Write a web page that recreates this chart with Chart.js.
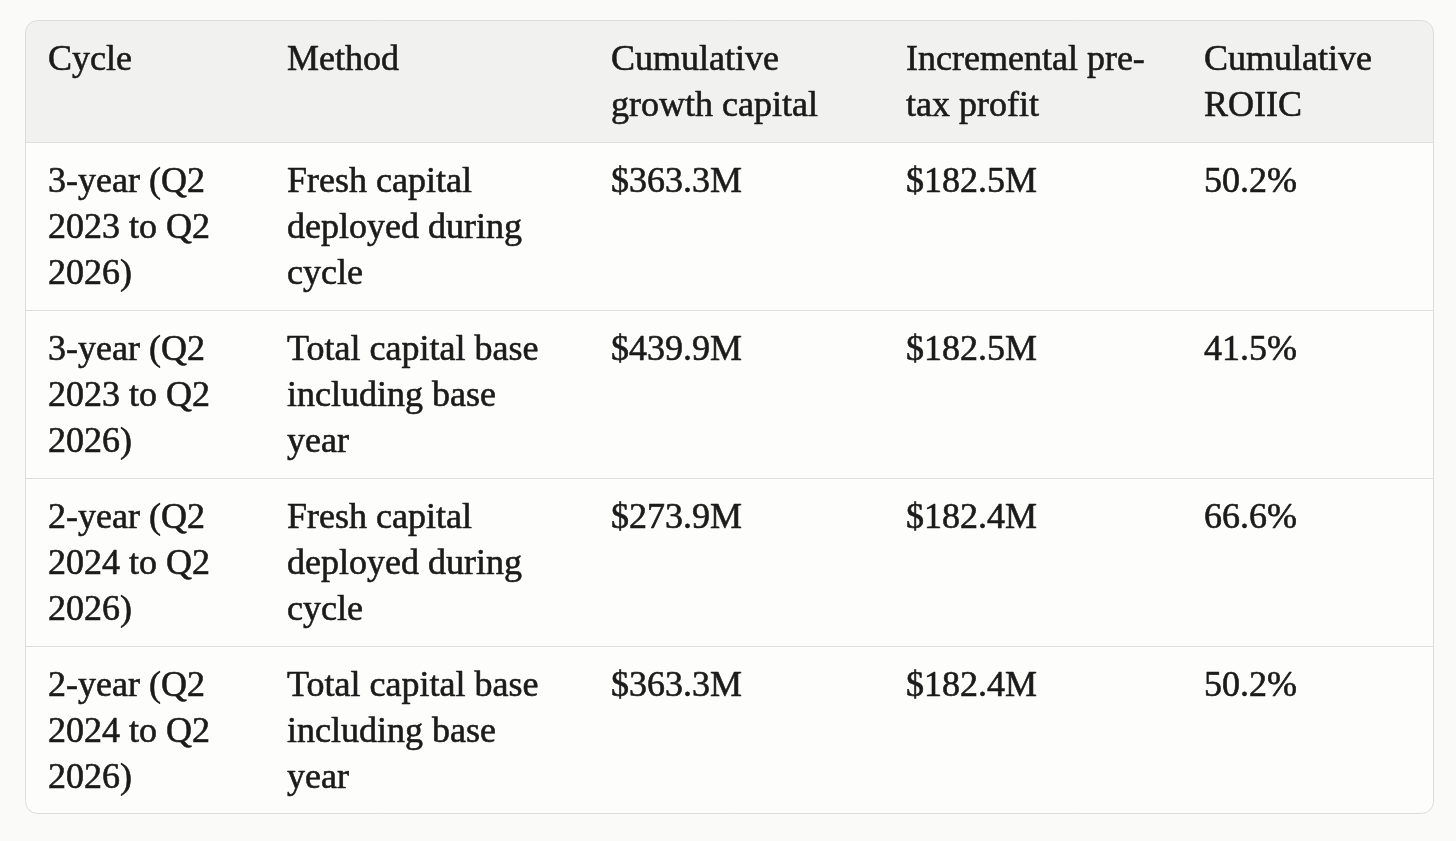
<!DOCTYPE html>
<html>
<head>
<meta charset="utf-8">
<script src="https://cdn.jsdelivr.net/npm/chart.js@4.4.1/dist/chart.umd.min.js"></script>
<style>
  html, body { margin: 0; padding: 0; background: #fafaf9; }
  #wrap { width: 1456px; height: 841px; }
</style>
</head>
<body>
<div id="wrap"><canvas id="roiicTable"></canvas></div>
<script>
// Table content
const headers = ["Cycle", "Method", "Cumulative growth capital", "Incremental pre-tax profit", "Cumulative ROIIC"];
const cycles = [
  "3-year (Q2 2023 to Q2 2026)",
  "3-year (Q2 2023 to Q2 2026)",
  "2-year (Q2 2024 to Q2 2026)",
  "2-year (Q2 2024 to Q2 2026)",
];
const methods = [
  "Fresh capital deployed during cycle",
  "Total capital base including base year",
  "Fresh capital deployed during cycle",
  "Total capital base including base year",
];
const growthCapital = [363.3, 439.9, 273.9, 363.3]; // $M
const pretaxProfit = [182.5, 182.5, 182.4, 182.4]; // $M
const roiic = [50.2, 41.5, 66.6, 50.2]; // %

// Layout (px units on the chart's own scales)
const colWidths = [239, 324, 295, 298, 253];
const headerHeight = 122;
const rowHeight = 168;
const padX = 23;
const wrapSlack = 56; // text width = column width - slack
const firstBaseline = 50;
const lineHeight = 46;
const fontCss = "36px 'Liberation Serif', 'DejaVu Serif', serif";

const totalW = colWidths.reduce((a, b) => a + b, 0);
const totalH = headerHeight + rowHeight * cycles.length;

const money = (v) => "$" + v.toFixed(1) + "M";
const pct = (v) => v.toFixed(1) + "%";

const bodyRows = cycles.map((c, i) => [c, methods[i], money(growthCapital[i]), money(pretaxProfit[i]), pct(roiic[i])]);

// greedy wrap, allows a break after a hyphen
function wrapText(ctx, text, maxWidth) {
  const tokens = [];
  text.split(" ").forEach((word, wi) => {
    const parts = word.split(/(?<=-)/);
    parts.forEach((p, pi) => tokens.push({ text: p, space: wi > 0 && pi === 0 }));
  });
  const lines = [];
  let line = "";
  tokens.forEach((t) => {
    const candidate = line === "" ? t.text : line + (t.space ? " " : "") + t.text;
    if (line !== "" && ctx.measureText(candidate).width > maxWidth) {
      lines.push(line);
      line = t.text;
    } else {
      line = candidate;
    }
  });
  if (line) lines.push(line);
  return lines;
}

const tablePlugin = {
  id: "tablePlugin",
  beforeDatasetsDraw(chart) {
    const { ctx, scales } = chart;
    const xs = scales.x, ys = scales.y;
    const left = xs.getPixelForValue(0), right = xs.getPixelForValue(totalW);
    const top = ys.getPixelForValue(0), bottom = ys.getPixelForValue(totalH);
    const headerBottom = ys.getPixelForValue(headerHeight);

    ctx.save();
    // table body + header
    ctx.beginPath();
    ctx.roundRect(left + 0.5, top + 0.5, right - left - 1, bottom - top - 1, 12);
    ctx.fillStyle = "#fdfdfc";
    ctx.fill();
    ctx.save();
    ctx.clip();
    ctx.fillStyle = "#f1f1f0";
    ctx.fillRect(left, top, right - left, headerBottom - top);
    ctx.restore();

    // row separators
    ctx.strokeStyle = "#dededc";
    ctx.lineWidth = 1;
    for (let r = 0; r < cycles.length; r++) {
      const y = Math.round(ys.getPixelForValue(headerHeight + rowHeight * r)) + 0.5;
      ctx.beginPath();
      ctx.moveTo(left, y);
      ctx.lineTo(right, y);
      ctx.stroke();
    }

    // outer border
    ctx.beginPath();
    ctx.roundRect(left + 0.5, top + 0.5, right - left - 1, bottom - top - 1, 12);
    ctx.strokeStyle = "#dcdcda";
    ctx.stroke();

    // text (thin stroke to match the heavier source face)
    ctx.font = fontCss;
    ctx.fillStyle = "#1b1b1b";
    ctx.strokeStyle = "#1b1b1b";
    ctx.lineWidth = 0.6;
    ctx.lineJoin = "round";
    ctx.textBaseline = "alphabetic";
    ctx.textAlign = "left";
    const drawRow = (cells, rowTopValue) => {
      let acc = 0;
      cells.forEach((cell, ci) => {
        const x0 = xs.getPixelForValue(acc) + padX;
        const lines = wrapText(ctx, cell, colWidths[ci] - wrapSlack);
        lines.forEach((ln, li) => {
          const y = ys.getPixelForValue(rowTopValue) + firstBaseline + li * lineHeight;
          ctx.fillText(ln, x0, y);
          ctx.strokeText(ln, x0, y);
        });
        acc += colWidths[ci];
      });
    };
    drawRow(headers, 0);
    bodyRows.forEach((cells, r) => drawRow(cells, headerHeight + rowHeight * r));
    ctx.restore();
  },
};

new Chart(document.getElementById("roiicTable"), {
  type: "scatter",
  data: { datasets: [{ data: [] }] },
  options: {
    responsive: true,
    maintainAspectRatio: false,
    animation: false,
    layout: { padding: { left: 25, top: 20, right: 22, bottom: 27 } },
    scales: {
      x: { type: "linear", min: 0, max: totalW, display: false },
      y: { type: "linear", min: 0, max: totalH, reverse: true, display: false },
    },
    plugins: { legend: { display: false }, tooltip: { enabled: false } },
  },
  plugins: [tablePlugin],
});
</script>
</body>
</html>
